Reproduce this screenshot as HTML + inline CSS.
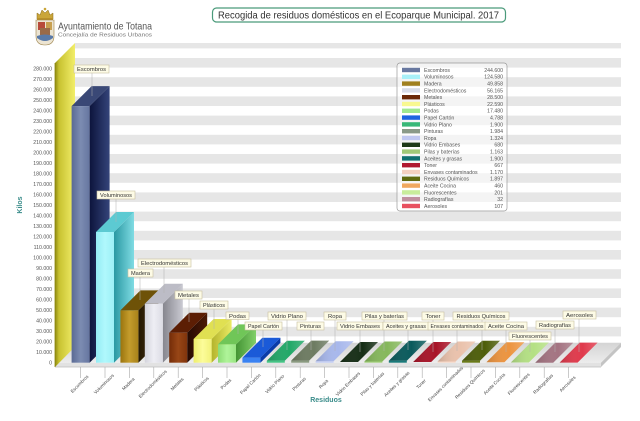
<!DOCTYPE html>
<html>
<head>
<meta charset="utf-8">
<style>
html,body{margin:0;padding:0;background:#fff;}
svg{display:block;}
text{font-family:"Liberation Sans",Arial,sans-serif;}
</style>
</head>
<body>
<svg width="640" height="421" viewBox="0 0 640 421" xmlns="http://www.w3.org/2000/svg">
<defs>
  <linearGradient id="gWall" x1="0" y1="0" x2="1" y2="0">
    <stop offset="0" stop-color="#8e8a10"/>
    <stop offset="0.2" stop-color="#c8c230"/>
    <stop offset="1" stop-color="#f2ee6a"/>
  </linearGradient>
  <linearGradient id="gFloor" x1="0" y1="0" x2="0" y2="1">
    <stop offset="0" stop-color="#d4d4d4"/>
    <stop offset="1" stop-color="#ececec"/>
  </linearGradient>
  <linearGradient id="f0" x1="0" x2="1"><stop offset="0" stop-color="#5a6a94"/><stop offset="0.5" stop-color="#7c8cb2"/><stop offset="1" stop-color="#6676a0"/></linearGradient>
  <linearGradient id="s0" x1="0" x2="1"><stop offset="0" stop-color="#0c143c"/><stop offset="1" stop-color="#34447a"/></linearGradient>
  <linearGradient id="f1" x1="0" x2="1"><stop offset="0" stop-color="#94ecf4"/><stop offset="0.5" stop-color="#b0f8fc"/><stop offset="1" stop-color="#9cf0f6"/></linearGradient>
  <linearGradient id="s1" x1="0" x2="1"><stop offset="0" stop-color="#2a98a2"/><stop offset="1" stop-color="#80dce4"/></linearGradient>
  <linearGradient id="f2" x1="0" x2="1"><stop offset="0" stop-color="#9a740e"/><stop offset="0.5" stop-color="#c49c2c"/><stop offset="1" stop-color="#a8821a"/></linearGradient>
  <linearGradient id="s2" x1="0" x2="1"><stop offset="0" stop-color="#241802"/><stop offset="1" stop-color="#4a3410"/></linearGradient>
  <linearGradient id="f3" x1="0" x2="1"><stop offset="0" stop-color="#d4d4dc"/><stop offset="0.5" stop-color="#eeeef4"/><stop offset="1" stop-color="#dcdce4"/></linearGradient>
  <linearGradient id="s3" x1="0" x2="1"><stop offset="0" stop-color="#86868e"/><stop offset="1" stop-color="#cacad2"/></linearGradient>
  <linearGradient id="f4" x1="0" x2="1"><stop offset="0" stop-color="#742c08"/><stop offset="0.5" stop-color="#984616"/><stop offset="1" stop-color="#80340c"/></linearGradient>
  <linearGradient id="s4" x1="0" x2="1"><stop offset="0" stop-color="#260a02"/><stop offset="1" stop-color="#4c1a06"/></linearGradient>
  <linearGradient id="f5" x1="0" x2="1"><stop offset="0" stop-color="#eeee6c"/><stop offset="0.5" stop-color="#fcfc9a"/><stop offset="1" stop-color="#f2f27a"/></linearGradient>
  <linearGradient id="s5" x1="0" x2="1"><stop offset="0" stop-color="#b4b42c"/><stop offset="1" stop-color="#eaea64"/></linearGradient>
  <linearGradient id="f6" x1="0" x2="1"><stop offset="0" stop-color="#8cdc74"/><stop offset="0.5" stop-color="#b0f49a"/><stop offset="1" stop-color="#98e482"/></linearGradient>
  <linearGradient id="s6" x1="0" x2="1"><stop offset="0" stop-color="#449434"/><stop offset="1" stop-color="#82d06a"/></linearGradient>
  <linearGradient id="tg" x1="0" x2="1" y1="0" y2="0"><stop offset="0" stop-color="#000" stop-opacity="0.15"/><stop offset="0.6" stop-color="#fff" stop-opacity="0"/><stop offset="1" stop-color="#fff" stop-opacity="0.2"/></linearGradient>
</defs>

<rect x="0" y="0" width="640" height="421" fill="#fff"/>

<!-- Back wall stripes -->
<g fill="#e6e6e6">
  <rect x="75" y="43" width="546" height="5.4"/>
  <rect x="75" y="58" width="546" height="9.6"/>
  <rect x="75" y="77.2" width="546" height="9.6"/>
  <rect x="75" y="96.4" width="546" height="9.6"/>
  <rect x="75" y="115.6" width="546" height="9.6"/>
  <rect x="75" y="134.8" width="546" height="9.6"/>
  <rect x="75" y="154" width="546" height="9.6"/>
  <rect x="75" y="173.2" width="546" height="9.6"/>
  <rect x="75" y="192.4" width="546" height="9.6"/>
  <rect x="75" y="211.6" width="546" height="9.6"/>
  <rect x="75" y="230.8" width="546" height="9.6"/>
  <rect x="75" y="250" width="546" height="9.6"/>
  <rect x="75" y="269.2" width="546" height="9.6"/>
  <rect x="75" y="288.4" width="546" height="9.6"/>
  <rect x="75" y="307.6" width="546" height="9.6"/>
  <rect x="75" y="326.8" width="546" height="9.6"/>
</g>

<!-- Floor -->
<polygon points="55,362.7 75,342.7 621,342.7 601,362.7" fill="url(#gFloor)"/>
<polygon points="55,362.7 601,362.7 601,367 55,367" fill="#e2e2e2"/>
<polygon points="601,362.7 621,342.7 621,347 601,367" fill="#c4c4c4"/>
<line x1="55" y1="367" x2="601" y2="367" stroke="#bdbdbd" stroke-width="0.8"/>

<!-- Yellow side wall -->
<polygon points="55,63 75,43 75,346.7 55,367" fill="url(#gWall)"/>
<line x1="55" y1="63" x2="55" y2="367" stroke="#8a8410" stroke-width="0.8"/>

<!-- Y axis labels -->
<g font-size="5.2" fill="#555" text-anchor="end">
  <text x="52" y="70.7">280.000</text>
  <text x="52" y="81.2">270.000</text>
  <text x="52" y="91.7">260.000</text>
  <text x="52" y="102.2">250.000</text>
  <text x="52" y="112.7">240.000</text>
  <text x="52" y="123.2">230.000</text>
  <text x="52" y="133.6">220.000</text>
  <text x="52" y="144.1">210.000</text>
  <text x="52" y="154.6">200.000</text>
  <text x="52" y="165.1">190.000</text>
  <text x="52" y="175.6">180.000</text>
  <text x="52" y="186.1">170.000</text>
  <text x="52" y="196.6">160.000</text>
  <text x="52" y="207.1">150.000</text>
  <text x="52" y="217.6">140.000</text>
  <text x="52" y="228.1">130.000</text>
  <text x="52" y="238.5">120.000</text>
  <text x="52" y="249.0">110.000</text>
  <text x="52" y="259.5">100.000</text>
  <text x="52" y="270.0">90.000</text>
  <text x="52" y="280.5">80.000</text>
  <text x="52" y="291.0">70.000</text>
  <text x="52" y="301.5">60.000</text>
  <text x="52" y="312.0">50.000</text>
  <text x="52" y="322.5">40.000</text>
  <text x="52" y="333.0">30.000</text>
  <text x="52" y="343.4">20.000</text>
  <text x="52" y="353.9">10.000</text>
  <text x="52" y="364.4">0</text>
</g>

<!-- Bars -->
<!-- 0 Escombros -->
<polygon points="89.6,106.1 109.6,86.1 109.6,342.7 89.6,362.7" fill="url(#s0)"/>
<polygon points="71.6,106.1 89.6,106.1 109.6,86.1 91.6,86.1" fill="#3a4876"/>
<rect x="71.6" y="106.1" width="18" height="256.6" fill="url(#f0)"/>
<!-- 1 Voluminosos -->
<polygon points="114,232 134,212 134,342.7 114,362.7" fill="url(#s1)"/>
<polygon points="96,232 114,232 134,212 116,212" fill="#5ccad2"/>
<rect x="96" y="232" width="18" height="130.7" fill="url(#f1)"/>
<!-- 2 Madera -->
<polygon points="138.4,310.4 158.4,290.4 158.4,342.7 138.4,362.7" fill="url(#s2)"/>
<polygon points="120.4,310.4 138.4,310.4 158.4,290.4 140.4,290.4" fill="#6e5208"/>
<rect x="120.4" y="310.4" width="18" height="52.3" fill="url(#f2)"/>
<!-- 3 Electrodomesticos -->
<polygon points="162.8,303.8 182.8,283.8 182.8,342.7 162.8,362.7" fill="url(#s3)"/>
<polygon points="144.8,303.8 162.8,303.8 182.8,283.8 164.8,283.8" fill="#bcbcc6"/>
<rect x="144.8" y="303.8" width="18" height="58.9" fill="url(#f3)"/>
<!-- 4 Metales -->
<polygon points="187.2,332.8 207.2,312.8 207.2,342.7 187.2,362.7" fill="url(#s4)"/>
<polygon points="169.2,332.8 187.2,332.8 207.2,312.8 189.2,312.8" fill="#5c1e04"/>
<rect x="169.2" y="332.8" width="18" height="29.9" fill="url(#f4)"/>
<!-- 5 Plasticos -->
<polygon points="211.6,339 231.6,319 231.6,342.7 211.6,362.7" fill="url(#s5)"/>
<polygon points="193.6,339 211.6,339 231.6,319 213.6,319" fill="#e0e052"/>
<rect x="193.6" y="339" width="18" height="23.7" fill="url(#f5)"/>
<!-- 6 Podas -->
<polygon points="236,344.4 256,324.4 256,342.7 236,362.7" fill="url(#s6)"/>
<polygon points="218,344.4 236,344.4 256,324.4 238,324.4" fill="#70c658"/>
<rect x="218" y="344.4" width="18" height="18.3" fill="url(#f6)"/>
<!-- 7 Papel Carton -->
<polygon points="260.4,357.7 280.4,337.7 280.4,342.7 260.4,362.7" fill="#0a3ca8"/>
<polygon points="242.4,357.7 260.4,357.7 280.4,337.7 262.4,337.7" fill="#1a5ad8"/>
<rect x="242.4" y="357.7" width="18" height="5" fill="#3a82f2"/>
<!-- 8 Vidrio Plano -->
<polygon points="266.8,360.7 284.8,360.7 304.8,340.7 286.8,340.7" fill="#22a868"/>
<rect x="266.8" y="360.7" width="18" height="2" fill="#44c484"/>
<!-- 9 Pinturas -->
<polygon points="291.2,360.6 309.2,360.6 329.2,340.6 311.2,340.6" fill="#6e7c62"/>
<rect x="291.2" y="360.6" width="18" height="2.1" fill="#8a9a80"/>
<!-- 10 Ropa -->
<polygon points="315.6,361.3 333.6,361.3 353.6,341.3 335.6,341.3" fill="#a8b8ec"/>
<rect x="315.6" y="361.3" width="18" height="1.4" fill="#c2ccf4"/>
<!-- 11 Vidrio Embases -->
<polygon points="340,362 358,362 378,342 360,342" fill="#162e16"/>
<!-- 12 Pilas -->
<polygon points="364.4,361.5 382.4,361.5 402.4,341.5 384.4,341.5" fill="#86b85c"/>
<rect x="364.4" y="361.5" width="18" height="1.2" fill="#a2d07a"/>
<!-- 13 Aceites y grasas -->
<polygon points="388.8,360.7 406.8,360.7 426.8,340.7 408.8,340.7" fill="#0a5a5c"/>
<rect x="388.8" y="360.7" width="18" height="2" fill="#1a7a7a"/>
<!-- 14 Toner -->
<polygon points="413.2,362 431.2,362 451.2,342 433.2,342" fill="#a81428"/>
<!-- 15 Envases -->
<polygon points="437.6,361.5 455.6,361.5 475.6,341.5 457.6,341.5" fill="#eac2ac"/>
<rect x="437.6" y="361.5" width="18" height="1.2" fill="#f8d8c8"/>
<!-- 16 Residuos Quimicos -->
<polygon points="462,360.7 480,360.7 500,340.7 482,340.7" fill="#4e5e0a"/>
<rect x="462" y="360.7" width="18" height="2" fill="#6a7a18"/>
<!-- 17 Aceite Cocina -->
<polygon points="486.4,362.2 504.4,362.2 524.4,342.2 506.4,342.2" fill="#ec9440"/>
<!-- 18 Fluorescentes -->
<polygon points="510.8,362.5 528.8,362.5 548.8,342.5 530.8,342.5" fill="#b4e084"/>
<!-- 19 Radiografias -->
<polygon points="535.2,362.7 553.2,362.7 573.2,342.7 555.2,342.7" fill="#a47482"/>
<!-- 20 Aerosoles -->
<polygon points="559.6,362.6 577.6,362.6 597.6,342.6 579.6,342.6" fill="#e03a4c"/>
<!-- shading overlay on flat tops -->
<g fill="url(#tg)">
  <polygon points="266.8,360.7 284.8,360.7 304.8,340.7 286.8,340.7"/>
  <polygon points="291.2,360.6 309.2,360.6 329.2,340.6 311.2,340.6"/>
  <polygon points="315.6,361.3 333.6,361.3 353.6,341.3 335.6,341.3"/>
  <polygon points="340,362 358,362 378,342 360,342"/>
  <polygon points="364.4,361.5 382.4,361.5 402.4,341.5 384.4,341.5"/>
  <polygon points="388.8,360.7 406.8,360.7 426.8,340.7 408.8,340.7"/>
  <polygon points="413.2,362 431.2,362 451.2,342 433.2,342"/>
  <polygon points="437.6,361.5 455.6,361.5 475.6,341.5 457.6,341.5"/>
  <polygon points="462,360.7 480,360.7 500,340.7 482,340.7"/>
  <polygon points="486.4,362.2 504.4,362.2 524.4,342.2 506.4,342.2"/>
  <polygon points="510.8,362.5 528.8,362.5 548.8,342.5 530.8,342.5"/>
  <polygon points="535.2,362.7 553.2,362.7 573.2,342.7 555.2,342.7"/>
  <polygon points="559.6,362.6 577.6,362.6 597.6,342.6 579.6,342.6"/>
</g>

<!-- Ticks -->
<g stroke="#a8a8a8" stroke-width="0.6">
  <line x1="80.6" y1="367" x2="80.6" y2="378"/>
  <line x1="105" y1="367" x2="105" y2="378"/>
  <line x1="129.4" y1="367" x2="129.4" y2="378"/>
  <line x1="153.8" y1="367" x2="153.8" y2="378"/>
  <line x1="178.2" y1="367" x2="178.2" y2="378"/>
  <line x1="202.6" y1="367" x2="202.6" y2="378"/>
  <line x1="227" y1="367" x2="227" y2="378"/>
  <line x1="251.4" y1="367" x2="251.4" y2="378"/>
  <line x1="275.8" y1="367" x2="275.8" y2="378"/>
  <line x1="300.2" y1="367" x2="300.2" y2="378"/>
  <line x1="324.6" y1="367" x2="324.6" y2="378"/>
  <line x1="349" y1="367" x2="349" y2="378"/>
  <line x1="373.4" y1="367" x2="373.4" y2="378"/>
  <line x1="397.8" y1="367" x2="397.8" y2="378"/>
  <line x1="422.2" y1="367" x2="422.2" y2="378"/>
  <line x1="446.6" y1="367" x2="446.6" y2="378"/>
  <line x1="471" y1="367" x2="471" y2="378"/>
  <line x1="495.4" y1="367" x2="495.4" y2="378"/>
  <line x1="519.8" y1="367" x2="519.8" y2="378"/>
  <line x1="544.2" y1="367" x2="544.2" y2="378"/>
  <line x1="568.6" y1="367" x2="568.6" y2="378"/>
</g>

<!-- X labels -->
<g font-size="4.6" fill="#444" text-anchor="middle">
  <text transform="translate(80.6,385) rotate(-45)">Escombros</text>
  <text transform="translate(105,385) rotate(-45)">Voluminosos</text>
  <text transform="translate(129.4,385) rotate(-45)">Madera</text>
  <text transform="translate(153.8,385) rotate(-45)">Electrodomésticos</text>
  <text transform="translate(178.2,385) rotate(-45)">Metales</text>
  <text transform="translate(202.6,385) rotate(-45)">Plásticos</text>
  <text transform="translate(227,385) rotate(-45)">Podas</text>
  <text transform="translate(251.4,385) rotate(-45)">Papel Cartón</text>
  <text transform="translate(275.8,385) rotate(-45)">Vidrio Plano</text>
  <text transform="translate(300.2,385) rotate(-45)">Pinturas</text>
  <text transform="translate(324.6,385) rotate(-45)">Ropa</text>
  <text transform="translate(349,385) rotate(-45)">Vidrio Embases</text>
  <text transform="translate(373.4,385) rotate(-45)">Pilas y baterías</text>
  <text transform="translate(397.8,385) rotate(-45)">Aceites y grasas</text>
  <text transform="translate(422.2,385) rotate(-45)">Toner</text>
  <text transform="translate(446.6,385) rotate(-45)">Envases contaminados</text>
  <text transform="translate(471,385) rotate(-45)">Residuos Químicos</text>
  <text transform="translate(495.4,385) rotate(-45)">Aceite Cocina</text>
  <text transform="translate(519.8,385) rotate(-45)">Fluorescentes</text>
  <text transform="translate(544.2,385) rotate(-45)">Radiografías</text>
  <text transform="translate(568.6,385) rotate(-45)">Aerosoles</text>
</g>

<!-- Leader lines -->
<g stroke="#b0b0b0" stroke-width="0.5">
  <line x1="92" y1="73" x2="92" y2="96"/>
  <line x1="116" y1="199" x2="116" y2="222"/>
  <line x1="140" y1="277" x2="140" y2="300"/>
  <line x1="164" y1="267" x2="164" y2="293"/>
  <line x1="189" y1="299" x2="189" y2="322"/>
  <line x1="214" y1="309" x2="214" y2="329"/>
  <line x1="238" y1="319.5" x2="238" y2="334"/>
  <line x1="263" y1="330" x2="263" y2="347"/>
  <line x1="287" y1="320" x2="287" y2="350"/>
  <line x1="311" y1="330" x2="311" y2="350"/>
  <line x1="335" y1="320" x2="335" y2="351"/>
  <line x1="360" y1="330" x2="360" y2="352"/>
  <line x1="384" y1="320" x2="384" y2="351"/>
  <line x1="408" y1="330" x2="408" y2="350"/>
  <line x1="433" y1="320" x2="433" y2="352"/>
  <line x1="457" y1="330" x2="457" y2="351"/>
  <line x1="482" y1="320" x2="482" y2="350"/>
  <line x1="506" y1="330" x2="506" y2="352"/>
  <line x1="530" y1="340" x2="530" y2="352"/>
  <line x1="555" y1="329" x2="555" y2="352"/>
  <line x1="579" y1="319" x2="579" y2="352"/>
</g>

<!-- Data labels -->
<g font-size="5.6" fill="#333" text-anchor="middle">
  <g fill="#fdfbe6" stroke="#c8c0a0" stroke-width="0.6">
    <rect x="74" y="65" width="35" height="8"/>
  </g>
  <text x="91.5" y="71.2" textLength="29" lengthAdjust="spacingAndGlyphs">Escombros</text>
  <rect x="97" y="191" width="38" height="8" fill="#fdfbe6" stroke="#c8c0a0" stroke-width="0.6"/>
  <text x="116" y="197.2" textLength="32" lengthAdjust="spacingAndGlyphs">Voluminosos</text>
  <rect x="138" y="259" width="53" height="8" fill="#fdfbe6" stroke="#c8c0a0" stroke-width="0.6"/>
  <text x="164.5" y="265.2" textLength="47" lengthAdjust="spacingAndGlyphs">Electrodomésticos</text>
  <rect x="128" y="269" width="25" height="8" fill="#fdfbe6" stroke="#c8c0a0" stroke-width="0.6"/>
  <text x="140.5" y="275.2" textLength="19" lengthAdjust="spacingAndGlyphs">Madera</text>
  <rect x="175" y="291" width="27" height="8" fill="#fdfbe6" stroke="#c8c0a0" stroke-width="0.6"/>
  <text x="188.5" y="297.2" textLength="21" lengthAdjust="spacingAndGlyphs">Metales</text>
  <rect x="200" y="301" width="28" height="8" fill="#fdfbe6" stroke="#c8c0a0" stroke-width="0.6"/>
  <text x="214" y="307.2" textLength="22" lengthAdjust="spacingAndGlyphs">Plásticos</text>
  <rect x="226" y="312" width="23" height="7.5" fill="#fdfbe6" stroke="#c8c0a0" stroke-width="0.6"/>
  <text x="237.5" y="318" textLength="17" lengthAdjust="spacingAndGlyphs">Podas</text>
  <rect x="268" y="312" width="38" height="8" fill="#fdfbe6" stroke="#c8c0a0" stroke-width="0.6"/>
  <text x="287" y="318.2" textLength="32" lengthAdjust="spacingAndGlyphs">Vidrio Plano</text>
  <rect x="245" y="322" width="37" height="8" fill="#fdfbe6" stroke="#c8c0a0" stroke-width="0.6"/>
  <text x="263.5" y="328.2" textLength="31" lengthAdjust="spacingAndGlyphs">Papel Cartón</text>
  <rect x="297" y="322" width="27" height="8" fill="#fdfbe6" stroke="#c8c0a0" stroke-width="0.6"/>
  <text x="310.5" y="328.2" textLength="21" lengthAdjust="spacingAndGlyphs">Pinturas</text>
  <rect x="324" y="312" width="22" height="8" fill="#fdfbe6" stroke="#c8c0a0" stroke-width="0.6"/>
  <text x="335" y="318.2" textLength="14" lengthAdjust="spacingAndGlyphs">Ropa</text>
  <rect x="337" y="322" width="46" height="8" fill="#fdfbe6" stroke="#c8c0a0" stroke-width="0.6"/>
  <text x="360" y="328.2" textLength="40" lengthAdjust="spacingAndGlyphs">Vidrio Embases</text>
  <rect x="362" y="312" width="45" height="8" fill="#fdfbe6" stroke="#c8c0a0" stroke-width="0.6"/>
  <text x="384.5" y="318.2" textLength="39" lengthAdjust="spacingAndGlyphs">Pilas y baterías</text>
  <rect x="383" y="322" width="46" height="8" fill="#fdfbe6" stroke="#c8c0a0" stroke-width="0.6"/>
  <text x="406" y="328.2" textLength="40" lengthAdjust="spacingAndGlyphs">Aceites y grasas</text>
  <rect x="422" y="312" width="22" height="8" fill="#fdfbe6" stroke="#c8c0a0" stroke-width="0.6"/>
  <text x="433" y="318.2" textLength="15" lengthAdjust="spacingAndGlyphs">Toner</text>
  <rect x="428" y="322" width="58" height="8" fill="#fdfbe6" stroke="#c8c0a0" stroke-width="0.6"/>
  <text x="457" y="328.2" textLength="53" lengthAdjust="spacingAndGlyphs">Envases contaminados</text>
  <rect x="453" y="312" width="56" height="8" fill="#fdfbe6" stroke="#c8c0a0" stroke-width="0.6"/>
  <text x="481" y="318.2" textLength="49" lengthAdjust="spacingAndGlyphs">Residuos Químicos</text>
  <rect x="485" y="322" width="42" height="8" fill="#fdfbe6" stroke="#c8c0a0" stroke-width="0.6"/>
  <text x="506" y="328.2" textLength="36" lengthAdjust="spacingAndGlyphs">Aceite Cocina</text>
  <rect x="536" y="321" width="38" height="8" fill="#fdfbe6" stroke="#c8c0a0" stroke-width="0.6"/>
  <text x="555" y="327.2" textLength="32" lengthAdjust="spacingAndGlyphs">Radiografías</text>
  <rect x="509" y="332" width="42" height="8" fill="#fdfbe6" stroke="#c8c0a0" stroke-width="0.6"/>
  <text x="530" y="338.2" textLength="36" lengthAdjust="spacingAndGlyphs">Fluorescentes</text>
  <rect x="563" y="311" width="33" height="8" fill="#fdfbe6" stroke="#c8c0a0" stroke-width="0.6"/>
  <text x="579.5" y="317.2" textLength="27" lengthAdjust="spacingAndGlyphs">Aerosoles</text>
</g>

<!-- Legend -->
<rect x="397" y="63" width="110" height="148" rx="3" fill="#fff" fill-opacity="0.55" stroke="#999" stroke-width="0.7"/>
<g>
  <rect x="402" y="67.8" width="18" height="4.4" fill="#6878a0"/>
  <rect x="402" y="74.6" width="18" height="4.4" fill="#a8f0f8"/>
  <rect x="402" y="81.4" width="18" height="4.4" fill="#a08020"/>
  <rect x="402" y="88.2" width="18" height="4.4" fill="#d8dce8"/>
  <rect x="402" y="95.0" width="18" height="4.4" fill="#6a2808"/>
  <rect x="402" y="101.8" width="18" height="4.4" fill="#f8f890"/>
  <rect x="402" y="108.6" width="18" height="4.4" fill="#a0e890"/>
  <rect x="402" y="115.4" width="18" height="4.4" fill="#1e64e0"/>
  <rect x="402" y="122.2" width="18" height="4.4" fill="#38b878"/>
  <rect x="402" y="129.0" width="18" height="4.4" fill="#8a9a88"/>
  <rect x="402" y="135.8" width="18" height="4.4" fill="#c0c8f0"/>
  <rect x="402" y="142.6" width="18" height="4.4" fill="#1e3a18"/>
  <rect x="402" y="149.4" width="18" height="4.4" fill="#a0c878"/>
  <rect x="402" y="156.2" width="18" height="4.4" fill="#107070"/>
  <rect x="402" y="163.0" width="18" height="4.4" fill="#b01830"/>
  <rect x="402" y="169.8" width="18" height="4.4" fill="#f4d0c0"/>
  <rect x="402" y="176.6" width="18" height="4.4" fill="#606a10"/>
  <rect x="402" y="183.4" width="18" height="4.4" fill="#f0a860"/>
  <rect x="402" y="190.2" width="18" height="4.4" fill="#c8ec9c"/>
  <rect x="402" y="197.0" width="18" height="4.4" fill="#c090a0"/>
  <rect x="402" y="203.8" width="18" height="4.4" fill="#e85060"/>
</g>
<g font-size="5.2" fill="#555">
  <text x="424" y="71.9">Escombros</text>
  <text x="424" y="78.7">Voluminosos</text>
  <text x="424" y="85.5">Madera</text>
  <text x="424" y="92.3">Electrodomésticos</text>
  <text x="424" y="99.1">Metales</text>
  <text x="424" y="105.9">Plásticos</text>
  <text x="424" y="112.7">Podas</text>
  <text x="424" y="119.5">Papel Cartón</text>
  <text x="424" y="126.3">Vidrio Plano</text>
  <text x="424" y="133.1">Pinturas</text>
  <text x="424" y="139.9">Ropa</text>
  <text x="424" y="146.7">Vidrio Embases</text>
  <text x="424" y="153.5">Pilas y baterías</text>
  <text x="424" y="160.3">Aceites y grasas</text>
  <text x="424" y="167.1">Toner</text>
  <text x="424" y="173.9">Envases contaminados</text>
  <text x="424" y="180.7">Residuos Químicos</text>
  <text x="424" y="187.5">Aceite Cocina</text>
  <text x="424" y="194.3">Fluorescentes</text>
  <text x="424" y="201.1">Radiografías</text>
  <text x="424" y="207.9">Aerosoles</text>
</g>
<g font-size="5.2" fill="#555" text-anchor="end">
  <text x="503" y="71.9">244.600</text>
  <text x="503" y="78.7">124.580</text>
  <text x="503" y="85.5">49.858</text>
  <text x="503" y="92.3">56.165</text>
  <text x="503" y="99.1">28.500</text>
  <text x="503" y="105.9">22.590</text>
  <text x="503" y="112.7">17.480</text>
  <text x="503" y="119.5">4.788</text>
  <text x="503" y="126.3">1.900</text>
  <text x="503" y="133.1">1.984</text>
  <text x="503" y="139.9">1.324</text>
  <text x="503" y="146.7">680</text>
  <text x="503" y="153.5">1.163</text>
  <text x="503" y="160.3">1.900</text>
  <text x="503" y="167.1">667</text>
  <text x="503" y="173.9">1.170</text>
  <text x="503" y="180.7">1.897</text>
  <text x="503" y="187.5">460</text>
  <text x="503" y="194.3">201</text>
  <text x="503" y="201.1">32</text>
  <text x="503" y="207.9">107</text>
</g>

<!-- Axis titles -->
<text transform="translate(22,205) rotate(-90)" font-size="7" font-weight="bold" fill="#3a8c8a" text-anchor="middle">Kilos</text>
<text x="326" y="402" font-size="7" font-weight="bold" fill="#3a8c8a" text-anchor="middle">Residuos</text>

<!-- Title -->
<rect x="212.5" y="8" width="293" height="14" rx="4" fill="#fff" stroke="#4a9a7a" stroke-width="1.2"/>
<text x="218" y="18.6" font-size="10" fill="#333" textLength="281" lengthAdjust="spacingAndGlyphs">Recogida de residuos domésticos en el Ecoparque Municipal. 2017</text>

<!-- Logo -->
<g>
  <path d="M37,19 L37,13 L40,15 L42,10 L45,13 L48,10 L50,15 L53,13 L53,19 Z" fill="#caa63a" stroke="#8a6a18" stroke-width="0.5"/>
  <circle cx="45" cy="9" r="1.3" fill="#caa63a"/>
  <rect x="37" y="18" width="16" height="2" fill="#b8902a"/>
  <path d="M36,20 L54,20 L54,36 Q54,45 45,45 Q36,45 36,36 Z" fill="#ece4d2" stroke="#9a8048" stroke-width="0.6"/>
  <rect x="38" y="22" width="7" height="8" fill="#b84a3a"/>
  <rect x="46" y="22" width="6" height="8" fill="#c8a050"/>
  <rect x="40" y="28" width="10" height="7" fill="#9a6a48"/>
  <path d="M37,36 Q45,33 53,36 L53,38 Q45,44 37,38 Z" fill="#5a7aa8"/>
  <text x="58" y="29.5" font-size="10.5" fill="#555" textLength="94" lengthAdjust="spacingAndGlyphs">Ayuntamiento de Totana</text>
  <text x="58" y="36.5" font-size="5.6" fill="#777" textLength="94" lengthAdjust="spacingAndGlyphs">Concejalía de Residuos Urbanos</text>
</g>
</svg>
</body>
</html>
